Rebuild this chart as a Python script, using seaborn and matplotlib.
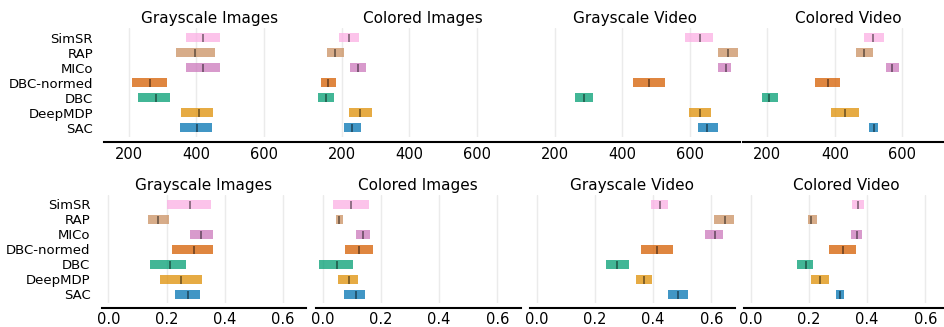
import matplotlib
matplotlib.use("Agg")
import matplotlib.pyplot as plt
import seaborn as sns

sns.set_style("white")
plt.rcParams["font.family"] = ["DejaVu Sans"]
plt.rcParams["text.color"] = "black"
plt.rcParams["axes.labelcolor"] = "black"
plt.rcParams["xtick.color"] = "black"
plt.rcParams["ytick.color"] = "black"

methods = ["SAC", "DeepMDP", "DBC", "DBC-normed", "MICo", "RAP", "SimSR"]
panel_titles = ["Grayscale Images", "Colored Images", "Grayscale Video", "Colored Video"]

# Top row: interval lower / upper bounds and point estimates, one entry per method
top_gray_img_lo = [350, 353, 228, 208, 370, 340, 370]
top_gray_img_hi = [447, 450, 323, 314, 471, 454, 471]
top_gray_img_pt = [401, 407, 280, 262, 420, 395, 419]

top_color_img_lo = [207, 222, 130, 139, 224, 156, 192]
top_color_img_hi = [257, 290, 177, 183, 272, 207, 251]
top_color_img_pt = [230, 253, 153, 160, 248, 181, 221]

top_gray_vid_lo = [623, 599, 262, 432, 682, 682, 587]
top_gray_vid_hi = [684, 664, 315, 527, 723, 744, 670]
top_gray_vid_pt = [652, 630, 287, 478, 706, 713, 631]

top_color_vid_lo = [502, 390, 184, 342, 550, 464, 485]
top_color_vid_hi = [529, 470, 232, 414, 589, 512, 544]
top_color_vid_pt = [515, 429, 204, 379, 570, 487, 514]

# Bottom row
bot_gray_img_lo = [0.230, 0.178, 0.143, 0.219, 0.281, 0.135, 0.200]
bot_gray_img_hi = [0.315, 0.321, 0.266, 0.359, 0.359, 0.208, 0.352]
bot_gray_img_pt = [0.275, 0.249, 0.211, 0.294, 0.318, 0.172, 0.280]

bot_color_img_lo = [0.075, 0.054, -0.011, 0.078, 0.116, 0.047, 0.036]
bot_color_img_hi = [0.147, 0.123, 0.105, 0.174, 0.164, 0.071, 0.161]
bot_color_img_pt = [0.114, 0.092, 0.051, 0.126, 0.140, 0.058, 0.098]

bot_gray_vid_lo = [0.453, 0.343, 0.237, 0.360, 0.580, 0.610, 0.394]
bot_gray_vid_hi = [0.521, 0.398, 0.319, 0.467, 0.642, 0.679, 0.453]
bot_gray_vid_pt = [0.486, 0.369, 0.277, 0.415, 0.614, 0.648, 0.423]

bot_color_vid_lo = [0.292, 0.209, 0.161, 0.268, 0.346, 0.196, 0.350]
bot_color_vid_hi = [0.320, 0.268, 0.215, 0.361, 0.384, 0.227, 0.388]
bot_color_vid_pt = [0.306, 0.240, 0.189, 0.316, 0.365, 0.209, 0.370]

top_ticks = [200, 400, 600]
bot_ticks = [0.0, 0.2, 0.4, 0.6]

rows = [
    {
        "panels": [
            (top_gray_img_lo, top_gray_img_hi, top_gray_img_pt),
            (top_color_img_lo, top_color_img_hi, top_color_img_pt),
            (top_gray_vid_lo, top_gray_vid_hi, top_gray_vid_pt),
            (top_color_vid_lo, top_color_vid_hi, top_color_vid_pt),
        ],
        "xlim": (127.5, 750),
        "ticks": top_ticks,
        "lefts": [104.3, 317.3, 530.0, 742.7],
        "width": 210.5,
        "top": 28.3,
        "bottom": 136.7,
        "offset": 4.0,
    },
    {
        "panels": [
            (bot_gray_img_lo, bot_gray_img_hi, bot_gray_img_pt),
            (bot_color_img_lo, bot_color_img_hi, bot_color_img_pt),
            (bot_gray_vid_lo, bot_gray_vid_hi, bot_gray_vid_pt),
            (bot_color_vid_lo, bot_color_vid_hi, bot_color_vid_pt),
        ],
        "xlim": (-0.0227, 0.680),
        "ticks": bot_ticks,
        "lefts": [101.7, 316.0, 530.0, 744.0],
        "width": 204.5,
        "top": 195.0,
        "bottom": 303.3,
        "offset": 3.2,
    },
]

W, H = 945, 327
fig = plt.figure(figsize=(W / 100, H / 100), dpi=100)
palette = sns.color_palette("colorblind", len(methods))
h = 0.6

for row in rows:
    for p, (lo, hi, pt) in enumerate(row["panels"]):
        left = row["lefts"][p]
        ax = fig.add_axes([left / W, 1 - row["bottom"] / H,
                           row["width"] / W, (row["bottom"] - row["top"]) / H])
        for i, m in enumerate(methods):
            ax.barh(y=i, width=hi[i] - lo[i], left=lo[i], height=h,
                    color=palette[i], alpha=0.75, linewidth=0)
            ax.vlines(x=pt[i], ymin=i - 7.5 * h / 16, ymax=i + 6 * h / 16,
                      color="k", alpha=0.5, linewidth=1.2)
        ax.set_xlim(*row["xlim"])
        ax.set_ylim(-0.6, 6.62)
        ax.set_xticks(row["ticks"])
        ax.set_yticks(range(len(methods)))
        if p == 0:
            ax.set_yticklabels(methods, fontsize=9.5)
        else:
            ax.set_yticklabels([])
        ax.set_title(panel_titles[p], fontsize=11, pad=3.6, color="black")
        ax.tick_params(axis="both", length=0.1, width=0.1)
        ax.tick_params(axis="x", labelsize=10.5, pad=3.0)
        ax.tick_params(axis="y", pad=8.0)
        sns.despine(ax=ax, left=True, top=True, right=True)
        ax.spines["bottom"].set_linewidth(1.5)
        ax.spines["bottom"].set_color("black")
        ax.spines["bottom"].set_position(("outward", row["offset"]))
        ax.set_axisbelow(True)
        ax.grid(True, axis="x", color="#b0b0b0", alpha=0.25, linewidth=1.0)
        ax.grid(False, axis="y")

fig.savefig("out.png", dpi=100)
